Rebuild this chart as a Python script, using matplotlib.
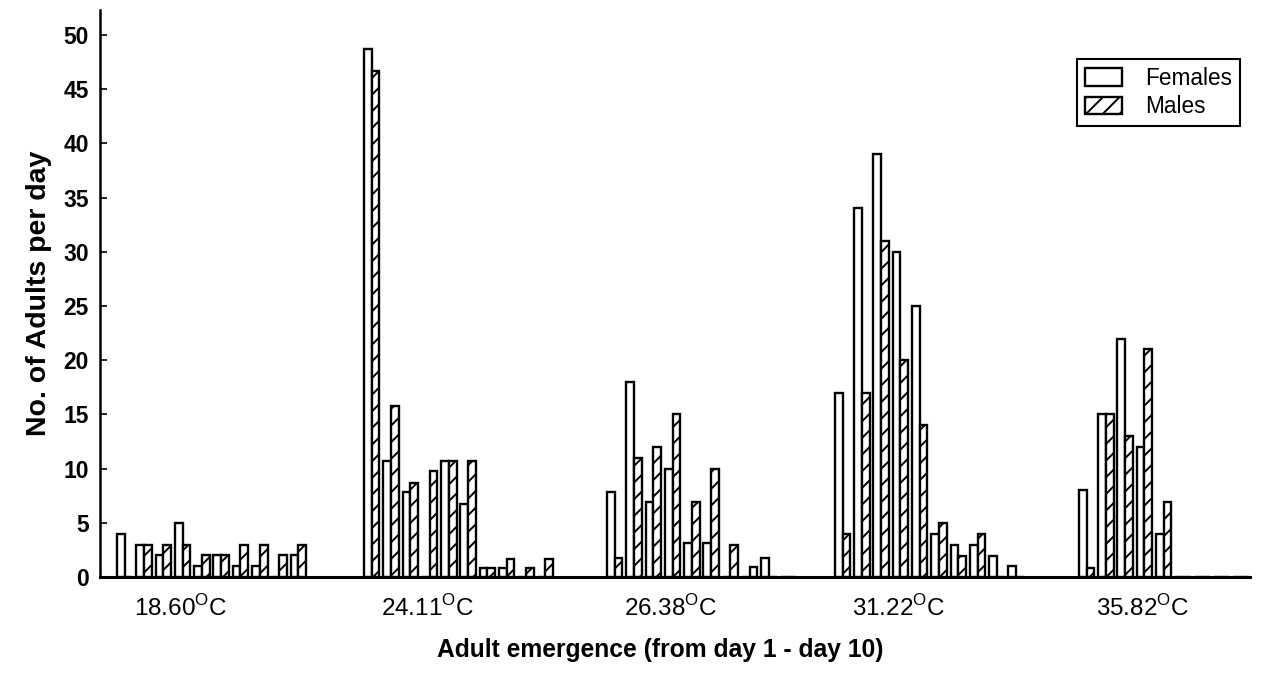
import matplotlib as mpl
import matplotlib.pyplot as plt
import numpy as np

mpl.rcParams["font.family"] = ["Liberation Sans", "DejaVu Sans"]
mpl.rcParams["mathtext.fontset"] = "custom"
mpl.rcParams["mathtext.rm"] = "Liberation Sans"
mpl.rcParams["hatch.linewidth"] = 1.4

# temperatures and daily emergence (day 1 .. day 10)
temps = ["18.60", "24.11", "26.38", "31.22", "35.82"]
females = [
    [4, 3, 2, 5, 1, 2, 1, 1, 0, 2],
    [48.7, 10.7, 7.8, 0, 10.7, 6.7, 0.8, 0.8, 0, 0],
    [7.8, 18.0, 6.9, 10.0, 3.1, 3.1, 0, 0, 1.8, 0],
    [17.0, 34.0, 39.0, 30.0, 25.0, 4.0, 3.0, 3.0, 1.9, 1.0],
    [8.0, 15.0, 22.0, 12.0, 4.0, 0, 0, 0, 0, 0],
]
males = [
    [0, 3, 3, 3, 2, 2, 3, 3, 2, 3],
    [46.7, 15.8, 8.7, 9.8, 10.7, 10.7, 0.8, 1.7, 0.8, 1.7],
    [1.8, 11.0, 12.0, 15.0, 6.9, 10.0, 3.0, 0.9, 0, 0],
    [4.0, 17.0, 31.0, 20.0, 14.0, 5.0, 1.9, 4.0, 0, 0],
    [0.8, 15.0, 13.0, 21.0, 6.9, 0, 0, 0, 0, 0],
]

# layout (one unit = one day slot)
group_start = [0.88, 13.68, 26.27, 38.08, 50.73]
w = 0.4

fig = plt.figure(figsize=(12.71, 6.73), dpi=100)
ax = fig.add_axes([0.0787, 0.1426, 0.9048, 0.8425])

days = np.arange(10)
for i in range(len(temps)):
    x = group_start[i] + days
    bf = ax.bar(x, females[i], w, align="edge", facecolor="white",
                edgecolor="black", lw=1.7)
    bm = ax.bar(x + w, males[i], w, align="edge", facecolor="white",
                edgecolor="black", lw=1.7, hatch="//")

ax.set_xlim(0, 59.6)
ax.set_ylim(0, 52.3)
ax.set_yticks(np.arange(0, 51, 5))
for lab in ax.get_yticklabels():
    lab.set_fontweight("bold")
ax.tick_params(axis="y", direction="in", length=5, width=1.2, labelsize=16.5, pad=8)
ax.set_xticks([s + 3.3 for s in group_start])
ax.set_xticklabels([t + r"$^{\mathregular{O}}$C" for t in temps], fontsize=17.5)
ax.tick_params(axis="x", length=0, pad=13)

ax.spines["top"].set_visible(False)
ax.spines["right"].set_visible(False)
ax.spines["left"].set_linewidth(1.8)
ax.spines["bottom"].set_linewidth(2.2)

ax.set_ylabel("No. of Adults per day", fontsize=20.5, fontweight="bold", labelpad=8)
ax.set_xlabel("Adult emergence (from day 1 - day 10)", fontsize=17.7,
              fontweight="bold")
ax.xaxis.set_label_coords(0.487, -0.107)

leg = ax.legend([bf, bm], ["Females", "Males"], loc="upper right",
                bbox_to_anchor=(0.991, 0.914), borderaxespad=0, fancybox=False,
                edgecolor="black", fontsize=16.3, handlelength=1.64,
                handleheight=0.8, borderpad=0.35, labelspacing=0.25,
                handletextpad=1.0, framealpha=1)
leg.get_frame().set_linewidth(1.5)

fig.savefig("out.png", dpi=100)
